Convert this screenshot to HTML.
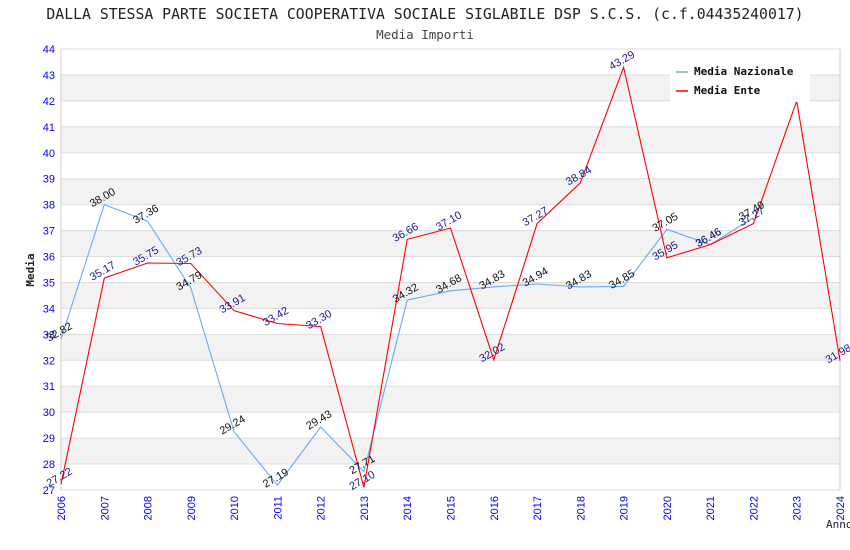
<!DOCTYPE html>
<html><head><meta charset="utf-8"><style>
body{margin:0;background:#fff;}
svg{display:block;font-family:"DejaVu Sans Mono","Liberation Mono",monospace;}
</style></head><body>
<svg id="c" width="850" height="550">
<text x="425" y="19" text-anchor="middle" font-size="14.8" fill="#222">DALLA STESSA PARTE SOCIETA COOPERATIVA SOCIALE SIGLABILE DSP S.C.S. (c.f.04435240017)</text>
<text x="425" y="39" text-anchor="middle" font-size="12.5" fill="#444">Media Importi</text>
<text x="34" y="270" text-anchor="middle" font-size="11" font-weight="bold" fill="#222" transform="rotate(-90 34 270)">Media</text>
<text x="826" y="528" font-size="11" fill="#222">Anno</text>
<g id="bands"></g><g id="grid"></g><g id="ticks"></g><g id="series"></g><g id="labels"></g>
<g>
<rect x="670" y="60" width="140" height="42" fill="#fff"/>
<g><line x1="676" y1="72" x2="688" y2="72" stroke="#6aaaf0" stroke-width="1.5"/><text x="694" y="75" font-size="11" font-weight="bold" fill="#111">Media Nazionale</text></g>
<g><line x1="676" y1="91" x2="688" y2="91" stroke="#f00" stroke-width="1.5"/><text x="694" y="94" font-size="11" font-weight="bold" fill="#111">Media Ente</text></g>
</g>
</svg>
<script>
const years=[2006,2007,2008,2009,2010,2011,2012,2013,2014,2015,2016,2017,2018,2019,2020,2021,2022,2023,2024];
const nazionale=[32.82,38.00,37.36,34.79,29.24,27.19,29.43,27.71,34.32,34.68,34.83,34.94,34.83,34.85,37.05,36.46,37.49,null,null];
const ente=[27.22,35.17,35.75,35.73,33.91,33.42,33.30,27.10,36.66,37.10,32.02,37.27,38.84,43.29,35.95,36.46,37.27,42.00,31.98];
const yTicks=[27,28,29,30,31,32,33,34,35,36,37,38,39,40,41,42,43,44];
const X0=61,X1=840,Y0=490,Y1=49,ymin=27,ymax=44;
const xs=i=>X0+(X1-X0)*i/(years.length-1);
const ys=v=>Y0-(v-ymin)/(ymax-ymin)*(Y0-Y1);
const NS='http://www.w3.org/2000/svg';
function mk(tag,attrs,parent,txt){const e=document.createElementNS(NS,tag);for(const k in attrs)e.setAttribute(k,attrs[k]);if(txt!=null)e.textContent=txt;document.getElementById(parent).appendChild(e);return e;}
for(let v=ymin;v<ymax;v++){if(v%2===0){const b=mk('rect',{x:X0,y:ys(v+1),width:X1-X0,height:ys(v)-ys(v+1),fill:'#f2f2f2'},'bands');

}}
yTicks.forEach(v=>{const l=mk('line',{x1:X0,x2:X1,y1:ys(v),y2:ys(v),stroke:'#dcdcdc'},'grid');


const t=mk('text',{x:X0-6,y:ys(v)+4,'text-anchor':'end','font-size':11,fill:'#00f','font-family':'Liberation Sans, sans-serif'},'ticks',String(v));

});
mk('line',{x1:X0,x2:X0,y1:Y1,y2:Y0,stroke:'#ccc'},'grid');
mk('line',{x1:X1,x2:X1,y1:Y1,y2:Y0,stroke:'#ccc'},'grid');
years.forEach((y,i)=>{const x=xs(i);const t=mk('text',{x:x+4,y:Y0+6,'text-anchor':'end','font-size':11,fill:'#00f','font-family':'Liberation Sans, sans-serif',transform:`rotate(-90 ${x+4} ${Y0+6})`},'ticks',String(y));

});
function series(data,color,lc,name){let d='';data.forEach((v,i)=>{if(v==null)return;d+=(d?'L':'M')+xs(i).toFixed(1)+','+ys(v).toFixed(1);});
const p=mk('path',{d,fill:'none',stroke:color,'stroke-width':1.1},'series');


data.forEach((v,i)=>{if(v==null||(name==='ente'&&i===17))return;const x=xs(i),y=ys(v)-4;
const t=mk('text',{x,y,'text-anchor':'middle','font-size':11,fill:lc,'font-family':'Liberation Sans, sans-serif',transform:`rotate(-30 ${x} ${y})`},'labels',v.toFixed(2));

});}
series(nazionale,'#6aaaf0','#111','nazionale');
series(ente,'#f00','#1a1a8c','ente');
</script>
</body></html>
